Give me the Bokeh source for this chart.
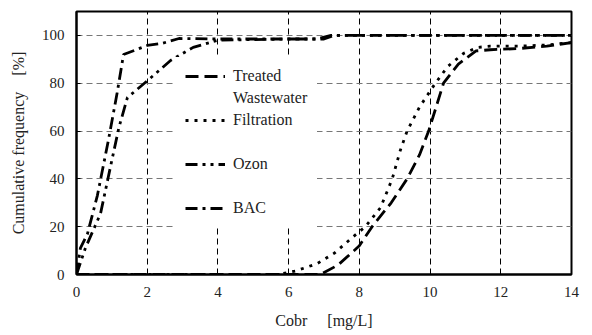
from bokeh.plotting import figure
from bokeh.models import Range1d, Legend, LegendItem, FixedTicker
from bokeh.embed import file_html
from bokeh.resources import INLINE

# ---- data ----
treated_x = [0, 6.9, 7.4, 8.0, 8.36, 8.9, 9.35, 9.7, 9.96, 10.38, 10.8, 11.3, 11.7, 12.5, 13.3, 14]
treated_y = [0, 0, 4, 12, 20, 30, 40, 50, 60, 80, 88, 93.5, 94, 94.5, 95.5, 97]

filtration_x = [0, 5.7, 6.2, 6.8, 7.3, 7.8, 8.17, 8.6, 8.93, 9.16, 9.35, 9.7, 10.15, 10.5, 10.95, 11.35, 11.7, 12.5, 13.3, 14]
filtration_y = [0, 0, 1.5, 4.5, 9, 15.5, 20, 28, 40, 52, 60, 70, 80, 87, 92.5, 95, 95.5, 95.5, 96, 97]

ozon_x = [0, 0.25, 0.68, 0.96, 1.2, 1.44, 2.0, 2.66, 3.3, 4.0, 6.0, 6.8, 7.2, 14]
ozon_y = [0, 11, 25.5, 45, 61.5, 74, 81, 89.5, 95, 98, 98.5, 98.5, 100, 100]

bac_x = [0, 0.11, 0.31, 0.59, 0.9, 1.15, 1.33, 2.0, 2.4, 2.9, 4.0, 6.0, 7.0, 7.3, 14]
bac_y = [0, 11, 17, 33, 56, 76, 92, 95.8, 96.6, 98.7, 98.5, 98.5, 98.5, 100, 100]

x_ticks = [0, 2, 4, 6, 8, 10, 12, 14]
y_ticks = [0, 20, 40, 60, 80, 100]

FONT = "Times New Roman"
SP = "\u3000"

p = figure(width=592, height=335, output_backend="svg", toolbar_location=None,
           x_range=Range1d(0, 14), y_range=Range1d(0, 110),
           min_border_left=76, min_border_right=21, min_border_top=11, min_border_bottom=61)
p.background_fill_color = "white"
p.border_fill_color = "white"
p.outline_line_color = "black"
p.outline_line_width = 2

# grid
p.xgrid.ticker = FixedTicker(ticks=[2, 4, 6, 8, 10, 12])
p.ygrid.ticker = FixedTicker(ticks=[20, 40, 60, 80, 100])
p.xgrid.grid_line_color = "black"
p.xgrid.grid_line_dash = "6 4"
p.xgrid.grid_line_width = 1
p.ygrid.grid_line_color = "#777777"
p.ygrid.grid_line_dash = "6 4"
p.ygrid.grid_line_width = 1

# axes
for ax, ticks in ((p.xaxis[0], x_ticks), (p.yaxis[0], y_ticks)):
    ax.ticker = FixedTicker(ticks=ticks)
    ax.major_tick_in = 4
    ax.major_tick_out = 0
    ax.minor_tick_in = 0
    ax.minor_tick_out = 0
    ax.axis_line_color = "black"
    ax.axis_line_width = 2
    ax.major_tick_line_color = "black"
    ax.major_label_text_font = FONT
    ax.major_label_text_font_size = "15px"
    ax.major_label_text_color = "#222222"
    ax.major_label_standoff = 12
    ax.axis_label_text_font = FONT
    ax.axis_label_text_font_size = "16px"
    ax.axis_label_text_font_style = "normal"
    ax.axis_label_text_color = "#222222"
    ax.axis_label_standoff = 12

p.xaxis.axis_label = "Cobr" + SP + " [mg/L]"
p.yaxis.axis_label = "Cumulative frequency" + SP + "[%]"

# series
r_treated = p.line(treated_x, treated_y, line_color="black", line_width=2.8, line_dash="13 6")
r_filt = p.line(filtration_x, filtration_y, line_color="black", line_width=2.8, line_dash="3 6")
r_ozon = p.line(ozon_x, ozon_y, line_color="black", line_width=2.8, line_dash="12 5 3 5 3 5")
r_bac = p.line(bac_x, bac_y, line_color="black", line_width=2.8, line_dash="12 5 3 5")

# invisible renderer for legend spacing lines
blank = p.line([0], [0], line_alpha=0)

legend = Legend(items=[
    LegendItem(label="Treated", renderers=[r_treated]),
    LegendItem(label="Wastewater", renderers=[blank]),
    LegendItem(label="Filtration", renderers=[r_filt]),
    LegendItem(label=" ", renderers=[blank]),
    LegendItem(label="Ozon", renderers=[r_ozon]),
    LegendItem(label=" ", renderers=[blank]),
    LegendItem(label="BAC", renderers=[r_bac]),
], location=(99, 47))
legend.background_fill_color = "white"
legend.background_fill_alpha = 1
legend.border_line_alpha = 0
legend.padding = 10
legend.margin = 0
legend.spacing = 4
legend.label_height = 18
legend.glyph_height = 18
legend.glyph_width = 40
legend.label_standoff = 8
legend.label_text_font = FONT
legend.label_text_font_size = "16px"
legend.label_text_color = "#222222"
p.add_layout(legend, "center")

open("out.html", "w").write(file_html(p, INLINE))
